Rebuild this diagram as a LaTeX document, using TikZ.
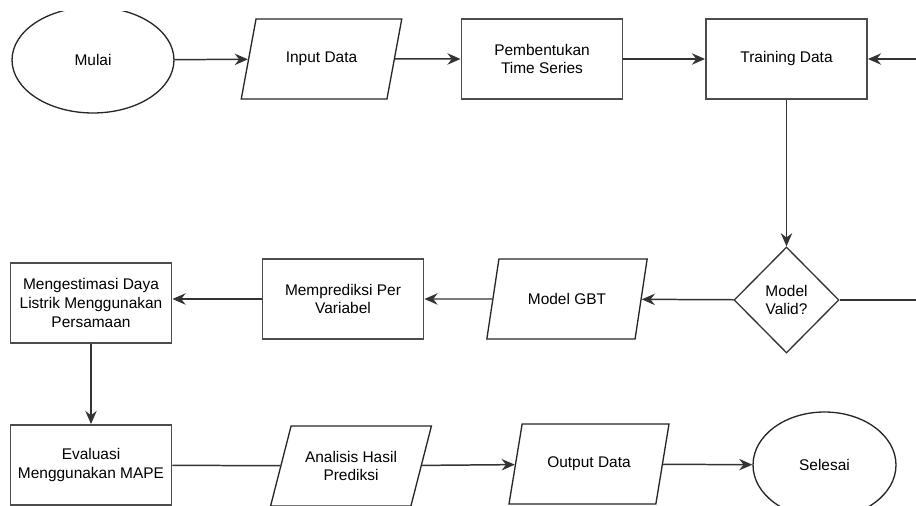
\documentclass[tikz,border=0pt]{standalone}
\usepackage{fontspec}
\setmainfont{Liberation Sans}
\usetikzlibrary{arrows.meta,shapes.geometric}
\tikzstyle{process} = [rectangle, draw=black!70, line width=1.1pt, fill=white, align=center, minimum width=3.22cm, minimum height=1.6cm, inner sep=1pt]
\tikzstyle{io} = [trapezium, trapezium left angle=64, trapezium right angle=116, trapezium stretches=true, draw=black!85, line width=0.75pt, fill=white, align=center, minimum width=3.22cm, minimum height=1.6cm, inner sep=1pt]
\tikzstyle{decision} = [diamond, draw=black!80, line width=0.75pt, fill=white, align=center, minimum width=2.1cm, minimum height=2.12cm, inner sep=0pt]
\tikzstyle{startstop} = [ellipse, draw=black!85, line width=0.75pt, fill=white, align=center, minimum width=3.24cm, minimum height=2.12cm]
\tikzstyle{line} = [draw=black!80, line width=0.85pt]
\tikzstyle{arrow} = [line, ->, >={Stealth[length=7.5pt,width=6.5pt,inset=2.5pt]}]

\begin{document}
\begin{tikzpicture}[x=0.02cm, y=-0.02cm, font=\fontsize{8.8}{10.6}\selectfont]

	% frame of the cut-out
	\useasboundingbox (0,0) rectangle (916,506);
	\clip (0,11.5) rectangle (916,506);

	% First row
	\node[startstop] (mulai) at (93,60) {Mulai};
	\node[io] (input) at (321.5,59) {Input Data};
	\node[process] (bentuk) at (542,59) {Pembentukan\\Time Series};
	\node[process] (train) at (786.5,59) {Training Data};

	% Second row
	\node[decision] (valid) at (786.5,300) {Model\\Valid?};
	\node[io] (gbt) at (567,299) {Model GBT};
	\node[process] (prediksi) at (343,299) {Memprediksi Per\\Variabel};
	\node[process] (estimasi) at (91,303) {Mengestimasi Daya\\Listrik Menggunakan\\Persamaan};

	% Third row
	\node[process] (evaluasi) at (91,465) {Evaluasi\\Menggunakan MAPE};
	\node[io] (analisis) at (351,466) {Analisis Hasil\\Prediksi};
	\node[io] (output) at (589,464) {Output Data};
	\node[startstop, minimum width=2.86cm] (selesai) at (824.5,465) {Selesai};

	% Arrows
	\draw[arrow] (mulai) -- (input);
	\draw[arrow] (input) -- (bentuk);
	\draw[arrow] (bentuk) -- (train);
	\draw[arrow] (train) -- (valid);
	\draw[arrow] (valid) -- (gbt);
	\draw[arrow] (gbt) -- (prediksi);
	\draw[arrow] (prediksi.west) -- (prediksi.west -| estimasi.east);
	\draw[arrow] (estimasi) -- (evaluasi);
	\draw[line] (evaluasi) -- (analisis);
	\draw[arrow] (analisis) -- (output);
	\draw[arrow] (output) -- (selesai);

	% Loop back to training
	\draw[arrow] (valid.east) -- ++(150,0) |- (train.east);

\end{tikzpicture}
\end{document}
